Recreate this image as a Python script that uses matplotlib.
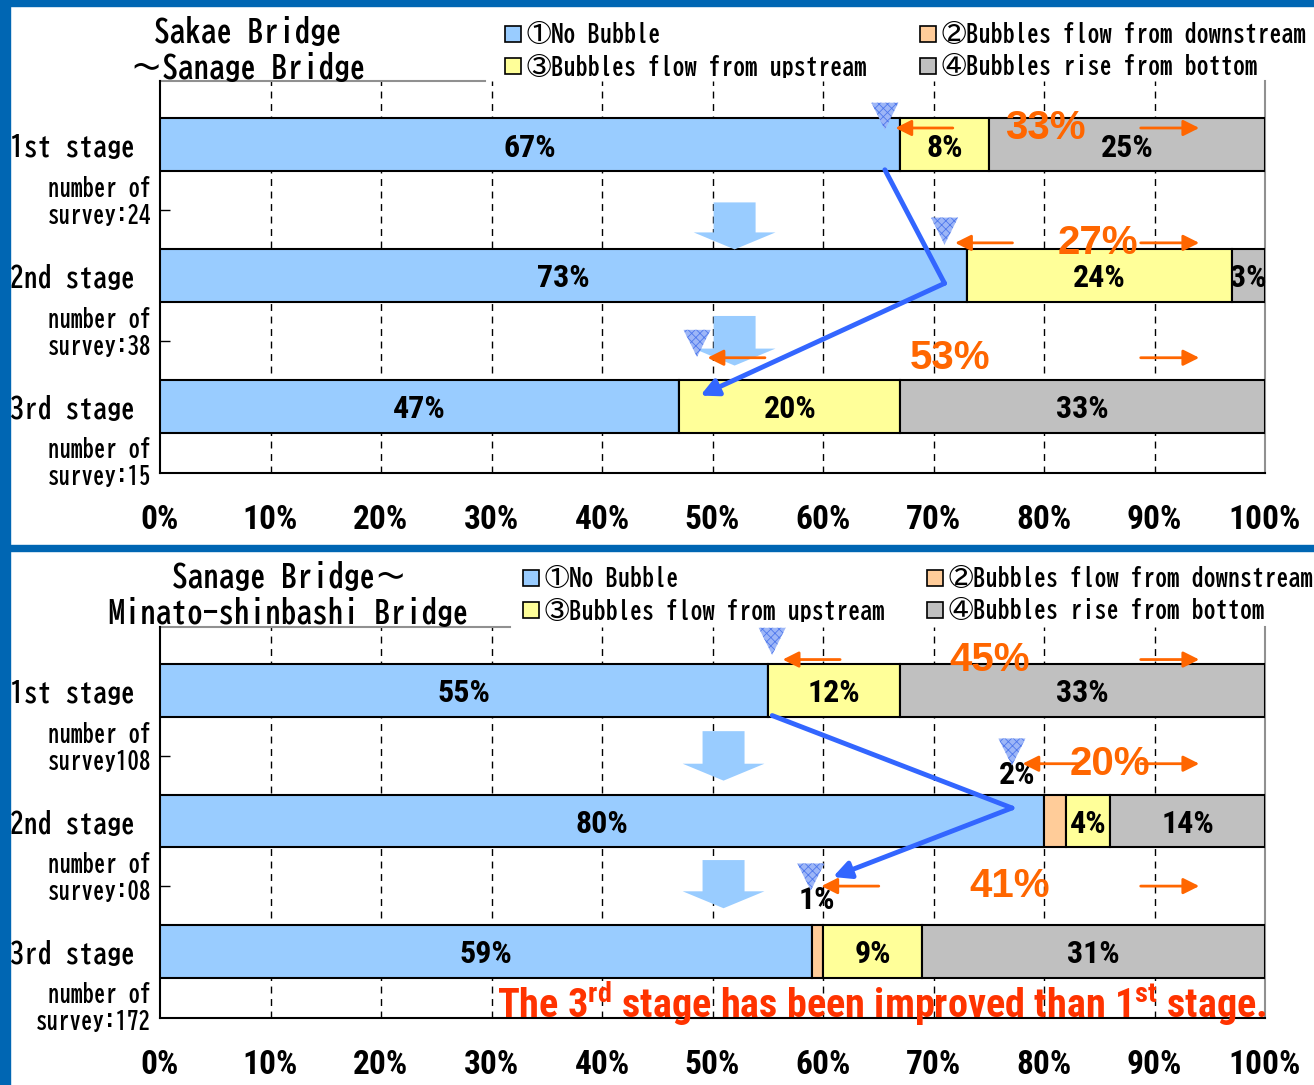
import matplotlib.pyplot as plt
from matplotlib.patches import Rectangle, FancyArrow

plt.rcParams['mathtext.fontset'] = 'custom'
plt.rcParams['mathtext.rm'] = 'Roboto Condensed:bold'
plt.rcParams['hatch.linewidth'] = 0.6

W, H = 1314, 1085

series = ['①No Bubble', '②Bubbles flow from downstream',
          '③Bubbles flow from upstream', '④Bubbles rise from bottom']
colors = ['#99CCFF', '#FFCC99', '#FFFF99', '#C0C0C0']
stages = ['1st stage', '2nd stage', '3rd stage']
xticks = [0, 10, 20, 30, 40, 50, 60, 70, 80, 90, 100]
xticklabels = ['0%', '10%', '20%', '30%', '40%', '50%', '60%', '70%', '80%', '90%', '100%']

top_title = 'Sakae Bridge\n～Sanage Bridge'
top_surveys = ['number of\nsurvey:24', 'number of\nsurvey:38', 'number of\nsurvey:15']
top_no_bubble = [67, 73, 47]
top_downstream = [0, 0, 0]
top_upstream = [8, 24, 20]
top_bottom = [25, 3, 33]

bot_title = 'Sanage Bridge～\nMinato-shinbashi Bridge'
bot_surveys = ['number of\nsurvey108', 'number of\nsurvey:08', 'number of\nsurvey:172']
bot_no_bubble = [55, 80, 59]
bot_downstream = [0, 2, 1]
bot_upstream = [12, 4, 9]
bot_bottom = [33, 14, 31]

note = r'The 3$^{\rm rd}$ stage has been improved than 1$^{\rm st}$ stage.'

GOTHIC = ['BIZ UDGothic', 'IPAGothic', 'DejaVu Sans Mono', 'Noto Sans CJK JP']
NARROW = ['Roboto Condensed', 'DejaVu Sans']
ORANGE = '#FF6600'
BLUE_LINE = '#3366FF'


def fx(px):
    return px / W


def fy(py):
    return 1 - py / H


def pct_text(ax, x, y, s):
    ax.text(x, y, s, ha='center', va='center', family=NARROW, fontstretch='condensed',
            weight='bold', fontsize=23, zorder=6)


def draw_panel(ax, surveys, vals, deco):
    nb = vals[0]
    left = [0, 0, 0]
    for s, v in enumerate(vals):
        ax.barh(range(3), v, left=left, height=0.406, color=colors[s],
                edgecolor='black', linewidth=1.5, zorder=3)
        for i in range(3):
            if v[i] >= 3:
                pct_text(ax, left[i] + v[i] / 2, i + 0.02, f'{v[i]}%')
            elif v[i] > 0:
                pct_text(ax, nb[i] + deco['tri'][i] + 0.5, i + deco['tri_dy'][i] + 0.18,
                         f'{v[i]}%')
        left = [a + b for a, b in zip(left, v)]

    ax.set_xlim(0, 100)
    ax.set_ylim(2.513, -0.49)
    ax.set_xticks(xticks, xticklabels)
    for lab in ax.get_xticklabels():
        lab.set_family(NARROW)
        lab.set_fontstretch('condensed')
        lab.set_weight('bold')
        lab.set_fontsize(24)
    ax.tick_params(axis='x', length=0, pad=22)
    ax.set_yticks(range(3), stages, family=GOTHIC, weight='bold', fontsize=20)
    ax.tick_params(axis='y', length=0, pad=18)
    ax.set_yticks([0.5, 1.5], minor=True)
    ax.tick_params(axis='y', which='minor', direction='in', length=7, width=1)
    for x in xticks[1:-1]:
        ax.axvline(x, color='black', lw=1, ls=(0, (5, 4)), zorder=1)
    for sp in ['left', 'bottom']:
        ax.spines[sp].set_linewidth(1.5)
    ax.spines['right'].set_color('#909090')
    ax.spines['right'].set_linewidth(1.5)
    ax.spines['top'].set_visible(False)
    ax.plot([0, deco['top_line']], [1, 1], transform=ax.transAxes, color='#909090',
            lw=1.5, clip_on=False)

    for i in range(3):
        ax.text(-0.008, 0.43 + i, surveys[i], transform=ax.get_yaxis_transform(),
                ha='right', va='center', family=GOTHIC, weight='bold', fontsize=16.5,
                linespacing=1.2)

    # light blue block arrows between stages
    for y0, y1 in deco['blocks']:
        ax.add_patch(FancyArrow(deco['block_x'], y0, 0, y1 - y0, width=3.8,
                                head_width=7.4, head_length=0.13,
                                length_includes_head=True, color='#99CCFF',
                                lw=0, zorder=4))

    for i in range(3):
        yr = i + deco['row'][i]
        tx = nb[i] + deco['tri'][i]
        ax.scatter(tx, i + deco['tri_dy'][i], marker='v', s=380, facecolor='#9DB6F7',
                   edgecolor='#4F78EC', hatch='xxxx', lw=0, zorder=7)
        ax.annotate('', xy=(tx + 0.7, yr), xytext=(tx + 6.4, yr),
                    arrowprops=dict(arrowstyle='-|>', color=ORANGE, lw=2,
                                    mutation_scale=24), zorder=8)
        ax.annotate('', xy=(94.3, yr), xytext=(88.5, yr),
                    arrowprops=dict(arrowstyle='-|>', color=ORANGE, lw=2,
                                    mutation_scale=24), zorder=8)
        ax.text(deco['pct_x'][i], yr, f'{100 - nb[i]}%', ha='center', va='center',
                family='Liberation Sans', weight='bold', fontsize=29,
                color=ORANGE, zorder=9)

    # blue trend line
    p0 = (nb[0] + deco['tri'][0], 0.19)
    p1 = (nb[1] + deco['tri'][1], 1 + deco['mid_dy'])
    p2 = (nb[2] + deco['tri'][2] + deco['end'][0], 2 + deco['end'][1])
    ax.plot([p0[0], p1[0]], [p0[1], p1[1]], color=BLUE_LINE, lw=3.5,
            solid_capstyle='round', zorder=8)
    ax.annotate('', xy=p2, xytext=p1,
                arrowprops=dict(arrowstyle='-|>', color=BLUE_LINE, lw=3.5,
                                mutation_scale=26, shrinkA=0, shrinkB=0), zorder=8)


fig = plt.figure(figsize=(W / 100, H / 100), dpi=100)

# blue frame
for x, y, w, h in [(0, 0, 10, H), (0, 0, W, 6), (0, 545, W, 6)]:
    fig.patches.append(Rectangle((fx(x), fy(y + h)), w / W, h / H,
                                 transform=fig.transFigure, color='#0066B3', zorder=0))

ax1 = fig.add_axes([fx(160), fy(473), 1105 / W, 392 / H])
ax2 = fig.add_axes([fx(160), fy(1018), 1105 / W, 391 / H])

draw_panel(ax1, top_surveys,
           [top_no_bubble, top_downstream, top_upstream, top_bottom],
           dict(row=[-0.13, -0.25, -0.37], tri=[-1.4, -2.0, 1.6],
                tri_dy=[-0.22, -0.34, -0.48], pct_x=[80.1, 84.9, 71.5],
                mid_dy=0.06, end=(0.3, -0.08), block_x=52,
                blocks=[(0.44, 0.8), (1.31, 1.69)], top_line=0.294))
draw_panel(ax2, bot_surveys,
           [bot_no_bubble, bot_downstream, bot_upstream, bot_bottom],
           dict(row=[-0.24, -0.44, -0.5], tri=[0.4, -2.9, -0.1],
                tri_dy=[-0.38, -0.53, -0.57], pct_x=[75.1, 86.0, 76.9],
                mid_dy=-0.1, end=(2.0, -0.57), block_x=51,
                blocks=[(0.31, 0.69), (1.3, 1.67)], top_line=0.317))

# panel titles
fig.text(fx(248), fy(49), top_title, ha='center', va='center', multialignment='center',
         family=GOTHIC, weight='bold', fontsize=22.5, linespacing=1.2)
fig.text(fx(289), fy(594), bot_title, ha='center', va='center', multialignment='center',
         family=GOTHIC, weight='bold', fontsize=22.5, linespacing=1.2)

# legends
legend_pos = [
    [(505, 34), (920, 34), (505, 66), (920, 66)],
    [(523, 578), (927, 578), (523, 610), (927, 610)],
]
for pos in legend_pos:
    for s, (px, py) in enumerate(pos):
        fig.patches.append(Rectangle((fx(px), fy(py + 8)), 16 / W, 16 / H,
                                     transform=fig.transFigure, facecolor=colors[s],
                                     edgecolor='black', lw=1.2))
        fig.text(fx(px + 22), fy(py), series[s], ha='left', va='center',
                 family=GOTHIC, weight='bold', fontsize=17.5)

fig.text(fx(497), fy(1004), note, ha='left', va='center', color='#FF3300',
         family=NARROW, fontstretch='condensed', weight='bold', fontsize=29)

fig.savefig('out.png', dpi=100)
